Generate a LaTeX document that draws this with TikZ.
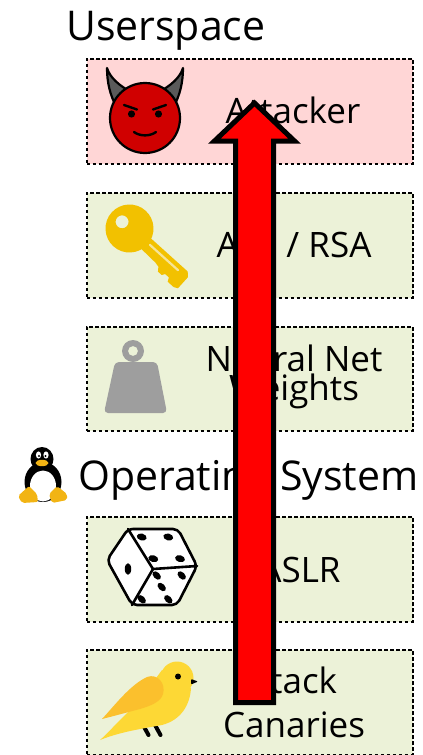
\documentclass[tikz,border=0pt]{standalone}
\usepackage{fontspec}
\setmainfont{Open Sans}
\usetikzlibrary{calc}
\definecolor{boxgreen}{RGB}{236,242,216}
\definecolor{boxpink}{RGB}{255,214,214}
\definecolor{devilred}{RGB}{208,0,0}
\definecolor{horngray}{RGB}{90,90,90}
\definecolor{keygold}{RGB}{242,193,0}
\definecolor{keyslot}{RGB}{246,228,150}
\definecolor{weightgray}{RGB}{158,158,158}
\definecolor{canarybody}{RGB}{253,216,53}
\definecolor{canarywing}{RGB}{251,192,45}
\definecolor{tuxyellow}{RGB}{242,180,20}
\begin{document}
\begin{tikzpicture}[x=1pt,y=-1pt,
  layer/.style={draw=black,line width=1.6pt,dash pattern=on 3.5pt off 2.5pt,
    fill=boxgreen,minimum width=326pt,minimum height=105pt,anchor=north west,inner sep=0pt},
  boxtext/.style={inner sep=0pt,anchor=base,font=\fontsize{35}{42}\selectfont},
  header/.style={inner sep=0pt,anchor=base west,font=\fontsize{41}{49}\selectfont},
  outline/.style={draw=black,line width=2.2pt,line join=round},
  bigarrow/.style={draw=black,fill=red,line width=5pt,line join=miter}]
\useasboundingbox (0,0) rectangle (423,755);

% layer boxes
\node[layer,fill=boxpink] (attbox) at (86,58) {};
\node[layer] (keybox) at (86,192) {};
\node[layer,minimum height=104pt] (nnbox) at (86,326) {};
\node[layer] (aslrbox) at (86,516) {};
\node[layer] (canbox) at (86,649) {};

% headers
\node[header] (user) at (66,40) {Userspace};
\node[header] (os) at (78,490) {Operating System};

% box labels
\node[boxtext] (att) at (293,123) {Attacker};
\node[boxtext] (aes) at (294,257) {AES / RSA};
\node[boxtext] (nn1) at (294,371) {Neural Net};
\node[boxtext] (nn2) at (294,400) {Weights};
\node[boxtext] (aslr) at (300,582) {ASLR};
\node[boxtext] (st1) at (294,693) {Stack};
\node[boxtext] (st2) at (294,737) {Canaries};

% devil face
\filldraw[outline,fill=horngray] (107,68) .. controls (107,82) and (110,95) .. (116,106)
  -- (131,92) .. controls (120,86) and (110,78) .. (107,68) -- cycle;
\filldraw[outline,fill=horngray] (183,68) .. controls (183,82) and (180,95) .. (174,106)
  -- (159,92) .. controls (170,86) and (180,78) .. (183,68) -- cycle;
\filldraw[outline,fill=devilred] (145,118) circle[radius=35];
\fill (131.5,114) circle[radius=3.6];
\fill (158.5,114) circle[radius=3.6];
\draw[line width=2.4pt,line cap=round] (124,105) -- (137,109.5);
\draw[line width=2.4pt,line cap=round] (166,105) -- (153,109.5);
\draw[line width=2.4pt,line cap=round] (134,132) .. controls (140,136.5) and (150,136.5) .. (156,132);

% key
\begin{scope}[shift={(129.5,228.5)},rotate=-42]
  \fill[keygold,even odd rule] (0,0) circle[radius=24] (-10,0) circle[radius=6.5];
  \fill[keygold] (15,-7) -- (72,-7) -- (76,-3) -- (76,12) -- (72,14) -- (64,14)
    -- (62,10) -- (57,10) -- (55,13) -- (50,13) -- (47,9) -- (42,8) -- (15,7) -- cycle;
  \draw[keyslot,line width=2.2pt,line cap=round] (26,-1.5) -- (64,-1.5);
\end{scope}

% weight
\fill[weightgray,even odd rule] (133,351) circle[radius=11] (133,351) circle[radius=5];
\fill[weightgray,rounded corners=4pt] (115,362) -- (157,362) -- (167,413) -- (104,413) -- cycle;

% die
\filldraw[fill=white,draw=black,line width=2.6pt,rounded corners=5pt,line join=round]
  (128,529) -- (178,529) -- (197,566) -- (177,605) -- (132,605) -- (107,560) -- cycle;
\draw[line width=2.6pt,line join=round,line cap=round] (128,529) -- (153,569) -- (197,566);
\draw[line width=2.6pt,line cap=round] (153,569) -- (132,605);
\fill (128,569) ellipse[x radius=3.2,y radius=5.8];
\foreach \p in {(141.7,537),(168.3,537),(153.3,558.7),(180,558.7)}
  \fill[rotate around={-15:\p}] \p ellipse[x radius=5,y radius=3.4];
\foreach \p in {(156.7,575.5),(181.7,575.5),(161.7,587),(141.7,599.3),(168.3,599.3)}
  \fill[rotate around={-45:\p}] \p ellipse[x radius=5,y radius=3.2];

% canary
\draw[line width=4pt,line cap=round] (143,725) -- (148.5,735);
\draw[line width=4pt,line cap=round] (155,725) -- (160.5,735);
\fill[canarybody] (100,740) .. controls (108,733) and (113,727) .. (118,722)
  -- (140,700) -- (162,670) -- (191,688)
  .. controls (190,705) and (181,720) .. (162,725)
  .. controls (140,729) and (120,732) .. (100,740) -- cycle;
\fill[canarybody] (177,678) circle[radius=16.5];
\fill[canarywing] (102,719) .. controls (115,705) and (130,685) .. (147,677)
  .. controls (158,673) and (166,684) .. (163,694)
  .. controls (161,702) and (150,706) .. (140,709)
  .. controls (125,713) and (110,717) .. (102,719) -- cycle;
\fill (178,676.5) circle[radius=3];
\fill[rounded corners=1pt] (191,679) -- (198,681.5) -- (191,684.5) -- cycle;

% penguin
\fill (43,482) ellipse[x radius=18.5,y radius=20];
\fill (42,459) ellipse[x radius=11.5,y radius=12];
\fill[white] (43,486) ellipse[x radius=13,y radius=15.5];
\fill[white] (38.5,455) ellipse[x radius=2.6,y radius=3.6];
\fill[white] (46,455) ellipse[x radius=2.6,y radius=3.6];
\fill (39,456) circle[radius=1.2];
\fill (45.5,456) circle[radius=1.2];
\fill[tuxyellow] (42,463) ellipse[x radius=6.5,y radius=3.2];
\fill[tuxyellow,rounded corners=2pt] (18,496) -- (29,486) -- (37,494) -- (38,502) -- (22,503) -- cycle;
\fill[tuxyellow,rounded corners=2pt] (49,494) -- (57,486) -- (67,494) -- (67,500) -- (52,503) -- cycle;

% attack path
\coordinate (tail) at (254.5,702.5);
\coordinate (tip) at (254.5,103);
\draw[bigarrow] ($(tail)+(-19,0)$) -- ($(tip)+(-19,38)$) -- ($(tip)+(-40,38)$) -- (tip)
  -- ($(tip)+(40,38)$) -- ($(tip)+(19,38)$) -- ($(tail)+(19,0)$) -- cycle;
\end{tikzpicture}
\end{document}
